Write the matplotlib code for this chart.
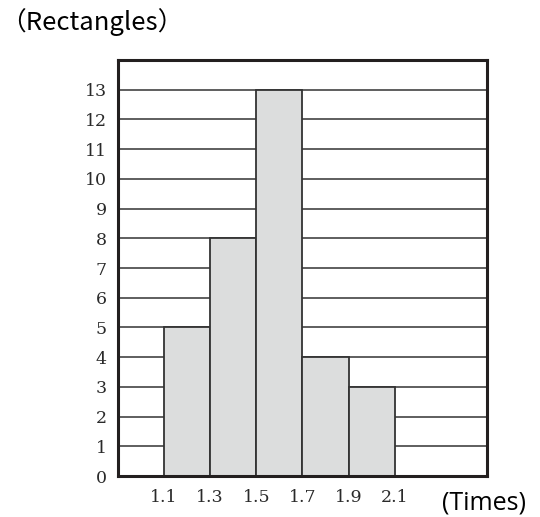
import matplotlib
matplotlib.use("Agg")
import matplotlib.pyplot as plt

bin_edges = [1.1, 1.3, 1.5, 1.7, 1.9, 2.1]
counts = [5, 8, 13, 4, 3]
x_ticks = [1.1, 1.3, 1.5, 1.7, 1.9, 2.1]
x_labels = ["1.1", "1.3", "1.5", "1.7", "1.9", "2.1"]
y_ticks = list(range(0, 14))

fig = plt.figure(figsize=(5.4, 5.17), dpi=100)
ax = fig.add_axes([0.2185, 0.0793, 0.6833, 0.8046])

lefts = bin_edges[:-1]
widths = [b - a for a, b in zip(bin_edges[:-1], bin_edges[1:])]
for y in y_ticks[1:]:
    ax.axhline(y, color="#333333", lw=1.1, zorder=1)
ax.bar(lefts, counts, width=widths, align="edge", color="#dcdddd",
       edgecolor="#333333", linewidth=1.3, zorder=2)

ax.set_xlim(0.9, 2.5)
ax.set_ylim(0, 14)
ax.set_xticks(x_ticks)
ax.set_yticks(y_ticks)
ax.set_xticklabels(x_labels, family="DejaVu Serif", fontsize=12.5, color="#2a2a2a")
ax.set_yticklabels([str(v) for v in y_ticks], family="DejaVu Serif", fontsize=12.5,
                   color="#2a2a2a")
ax.tick_params(length=0)
ax.tick_params(axis="y", pad=8)
ax.tick_params(axis="x", pad=9)
for s in ax.spines.values():
    s.set_linewidth(2.2)
    s.set_color("#231f1f")

fig.text(0.0, 0.957, "（Rectangles）", fontsize=18.5, va="center", ha="left",
         family=["Noto Sans CJK SC", "DejaVu Sans"], color="black")
fig.text(0.818, 0.027, "(Times)", fontsize=18, va="center", ha="left",
         family=["Open Sans", "DejaVu Sans"], color="black")

fig.savefig("out.png", dpi=100)
